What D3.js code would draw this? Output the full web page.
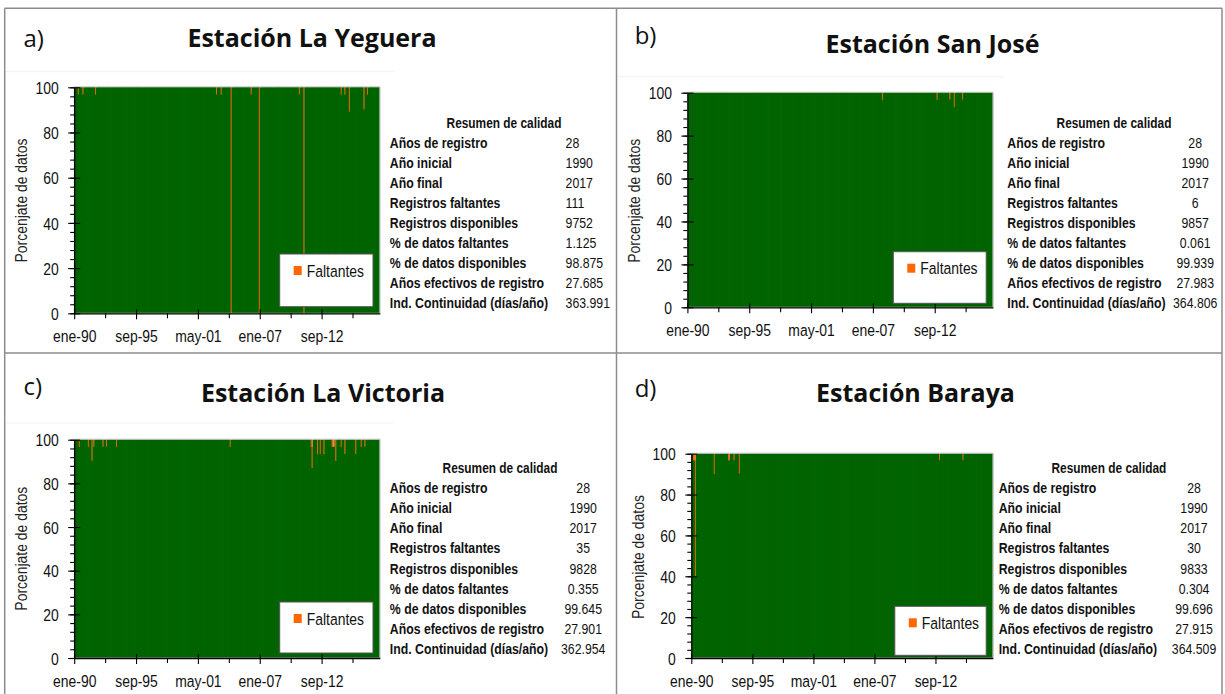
<!DOCTYPE html>
<html lang="es">
<head>
<meta charset="utf-8">
<title>Resumen de calidad de estaciones</title>
<script src="https://cdn.jsdelivr.net/npm/d3@7/dist/d3.min.js"></script>
<style>
  html, body { margin: 0; padding: 0; background: #fff; }
  svg { display: block; }
</style>
</head>
<body>
<svg id="fig" width="1225" height="694"></svg>
<script>
// ---- Datos ----
const years = d3.range(1990, 2018);
const monthAbbr = ["ene", "feb", "mar", "abr", "may", "jun", "jul", "ago", "sep", "oct", "nov", "dic"];
const months = years.flatMap(y => monthAbbr.map(m => `${m}-${String(y).slice(2)}`));

const stationTags = ["a)", "b)", "c)", "d)"];
const stationNames = ["Estación La Yeguera", "Estación San José", "Estación La Victoria", "Estación Baraya"];

// Meses con datos faltantes: [mes, % faltante]; el resto del mes está disponible
const missingYeguera = [
  ["may-90", 3.2], ["oct-90", 3.2], ["dic-91", 3.2], ["ene-03", 3.2], ["jun-03", 3.3],
  ["may-04", 100], ["mar-06", 3.2], ["dic-06", 100], ["ago-10", 3.2], ["ene-11", 100],
  ["jun-14", 3.3], ["oct-14", 3.2], ["mar-15", 10.8], ["jul-16", 9.7], ["nov-16", 3.3]
];
const missingSanJose = [
  ["nov-07", 3.3], ["nov-12", 3.3], ["ene-14", 3.2], ["jun-14", 6.7], ["mar-15", 3.2]
];
const missingVictoria = [
  ["jun-90", 3.3], ["abr-91", 3.3], ["ago-91", 9.7], ["oct-91", 3.2], ["ago-92", 3.2],
  ["dic-92", 3.2], ["nov-93", 3.3], ["abr-04", 3.3], ["sep-11", 3.3], ["oct-11", 12.9],
  ["abr-12", 6.7], ["jul-12", 6.5], ["nov-12", 6.7], ["ago-13", 3.2], ["sep-13", 3.3],
  ["oct-13", 3.2], ["dic-13", 9.7], ["jun-14", 3.3], ["oct-14", 6.5], ["oct-15", 6.5],
  ["abr-16", 3.3], ["ago-16", 3.2]
];
const missingBaraya = [
  ["mar-90", 3.2], ["abr-90", 3.3], ["may-90", 60], ["feb-92", 10], ["jun-93", 3.3],
  ["jul-93", 3.2], ["dic-93", 3.2], ["jun-94", 9.7], ["ene-13", 3.2], ["mar-15", 3.2]
];

const summaryTitle = "Resumen de calidad";
const summaryLabels = [
  "Años de registro", "Año inicial", "Año final", "Registros faltantes",
  "Registros disponibles", "% de datos faltantes", "% de datos disponibles",
  "Años efectivos de registro", "Ind. Continuidad (días/año)"
];
const summaryYeguera  = ["28", "1990", "2017", "111", "9752", "1.125", "98.875", "27.685", "363.991"];
const summarySanJose  = ["28", "1990", "2017", "6",   "9857", "0.061", "99.939", "27.983", "364.806"];
const summaryVictoria = ["28", "1990", "2017", "35",  "9828", "0.355", "99.645", "27.901", "362.954"];
const summaryBaraya   = ["28", "1990", "2017", "30",  "9833", "0.304", "99.696", "27.915", "364.509"];

const yTicks = [0, 20, 40, 60, 80, 100];
const yMinorStep = 4;
const xLabelEvery = 68;   // meses entre etiquetas
const xTickEvery = 34;    // meses entre marcas
const yTitle = "Porcenjate de datos";
const legendLabel = "Faltantes";

// ---- Estilo y disposición ----
const GREEN = "#006400";
const ORANGE = "#ff6600";
const SANS = '"Liberation Sans", Arial, sans-serif';
const NARROW_X = 0.82;    // estrechamiento horizontal del texto (estilo Arial Narrow)
const TITLEFONT = '"Open Sans", "Noto Sans", sans-serif';

// Estrecha horizontalmente un texto manteniendo su punto de anclaje
function narrow(sel, extra) {
  sel.each(function () {
    const t = d3.select(this);
    const x = +t.attr("x") || 0, y = +t.attr("y") || 0;
    t.attr("x", 0).attr("y", 0)
      .attr("font-family", SANS)
      .attr("transform", `translate(${x},${y})${extra || ""} scale(${NARROW_X},1)`);
  });
}

const layouts = [
  { ox: 0, oy: 0,
    plot: { l: 74.2, r: 379.8, t: 87.3, b: 313.3 },
    legend: { x: 279.7, y: 254, w: 93.3, h: 52.7 },
    table: { titleX: 504, titleY: 128, labelX: 389.8, valX: 565.6, anchor: "start", row0: 147.6, dy: 20.1 },
    yTitle: { x: 20.5, y: 200.5 }, tag: { x: 23.4, y: 46.7 }, title: { x: 312, y: 46.7 },
    frame: { y: 71.7, x2: 394 } },
  { ox: 612, oy: 0,
    plot: { l: 75.4, r: 380.9, t: 92.7, b: 307.3 },
    legend: { x: 281.3, y: 251.7, w: 92.9, h: 51.6 },
    table: { titleX: 502, titleY: 128, labelX: 395.3, valX: 583.2, anchor: "middle", row0: 147.6, dy: 20.1 },
    yTitle: { x: 21.5, y: 200.8 }, tag: { x: 22.7, y: 43.5 }, title: { x: 320.5, y: 52.7 },
    frame: { y: 76.7, x2: 392.6 } },
  { ox: 0, oy: 347,
    plot: { l: 74.2, r: 379.8, t: 92.7, b: 311 },
    legend: { x: 279.7, y: 255, w: 93.3, h: 51 },
    table: { titleX: 500, titleY: 126, labelX: 389.8, valX: 583.2, anchor: "middle", row0: 146, dy: 20.16 },
    yTitle: { x: 20.5, y: 201.7 }, tag: { x: 23.4, y: 48.3 }, title: { x: 323, y: 55 },
    frame: { y: 76, x2: 394 } },
  { ox: 612, oy: 347,
    plot: { l: 79.3, r: 380.9, t: 106.7, b: 311 },
    legend: { x: 282.8, y: 259.3, w: 91.4, h: 49 },
    table: { titleX: 496.9, titleY: 126, labelX: 386.7, valX: 582, anchor: "middle", row0: 146, dy: 20.16 },
    yTitle: { x: 25.4, y: 210 }, tag: { x: 22.7, y: 50 }, title: { x: 303.5, y: 55 },
    frame: null }
];

const missingSets = [missingYeguera, missingSanJose, missingVictoria, missingBaraya];
const summaries = [summaryYeguera, summarySanJose, summaryVictoria, summaryBaraya];

const svg = d3.select("#fig");

// Marco de la figura (cuadrícula de 2x2)
const frame = svg.append("g").attr("fill", "none").attr("stroke", "#8c8c8c").attr("stroke-width", 1.5);
frame.append("line").attr("x1", 4.5).attr("x2", 1222).attr("y1", 8.3).attr("y2", 8.3);
frame.append("line").attr("x1", 4.7).attr("x2", 4.7).attr("y1", 8.3).attr("y2", 694);
frame.append("line").attr("x1", 1222).attr("x2", 1222).attr("y1", 8.3).attr("y2", 694);
frame.append("line").attr("x1", 616.5).attr("x2", 616.5).attr("y1", 8.3).attr("y2", 694);
frame.append("line").attr("x1", 4.7).attr("x2", 1222).attr("y1", 353).attr("y2", 353);

function drawPanel(k) {
  const L = layouts[k];
  const g = svg.append("g").attr("transform", `translate(${L.ox},${L.oy})`);

  if (L.frame) {
    g.append("line").attr("x1", 6).attr("x2", L.frame.x2)
      .attr("y1", L.frame.y).attr("y2", L.frame.y)
      .attr("stroke", "#f2f2f2").attr("stroke-width", 1);
  }

  // Títulos
  g.append("text").attr("x", L.tag.x).attr("y", L.tag.y)
    .attr("font-family", TITLEFONT).attr("font-size", 24).attr("fill", "#111")
    .text(stationTags[k]);
  g.append("text").attr("x", L.title.x).attr("y", L.title.y)
    .attr("text-anchor", "middle")
    .attr("font-family", TITLEFONT).attr("font-weight", 700).attr("font-size", 25).attr("fill", "#111")
    .text(stationNames[k]);

  // Serie mensual completa: faltante y disponible (%)
  const missMap = new Map(missingSets[k]);
  const series = months.map(m => {
    const miss = missMap.get(m) || 0;
    return { month: m, available: 100 - miss, missing: miss };
  });

  const P = L.plot;
  const W = P.r - P.l, H = P.b - P.t;
  const plot = g.append("g").attr("transform", `translate(${P.l},${P.t})`);

  const x = d3.scaleBand().domain(months).range([0, W]).paddingInner(0).paddingOuter(0);
  const xi = d3.scaleLinear().domain([0, months.length]).range([0, W]);
  const y = d3.scaleLinear().domain([0, 100]).range([H, 0]);

  const stack = d3.stack().keys(["available", "missing"])(series);
  const colors = { available: GREEN, missing: ORANGE };

  // Disponibles (cada barra cubre el borde de la siguiente para evitar costuras)
  const last = months[months.length - 1];
  plot.append("g").selectAll("rect").data(stack[0]).join("rect")
    .attr("x", d => x(d.data.month))
    .attr("width", d => x.bandwidth() + (d.data.month === last ? 0 : 1.2))
    .attr("y", d => y(d[1]))
    .attr("height", d => y(d[0]) - y(d[1]))
    .attr("fill", colors.available);
  // Faltantes
  plot.append("g").selectAll("rect").data(stack[1].filter(d => d[1] - d[0] > 0)).join("rect")
    .attr("x", d => x(d.data.month))
    .attr("width", x.bandwidth())
    .attr("y", d => y(d[1]))
    .attr("height", d => y(d[0]) - y(d[1]))
    .attr("fill", colors.missing);

  // Borde del área de trazado
  plot.append("rect").attr("x", 0).attr("y", -0.5).attr("width", W).attr("height", H + 0.5)
    .attr("fill", "none").attr("stroke", "#c4c4c4").attr("stroke-width", 1);

  // Eje Y
  const yMinor = d3.range(0, 100 + 0.001, yMinorStep);
  plot.append("g").call(d3.axisLeft(y).tickValues(yMinor).tickSize(4).tickFormat(""))
    .call(a => a.select(".domain").remove());
  plot.append("g").call(d3.axisLeft(y).tickValues(yTicks).tickSize(-6).tickFormat(""))
    .call(a => a.select(".domain").remove());
  const yAx = plot.append("g").call(d3.axisLeft(y).tickValues(yTicks).tickSize(6).tickSizeOuter(0));
  yAx.selectAll("text").attr("x", -15.5).attr("dy", "0.36em")
    .attr("font-size", 17).attr("fill", "#111").call(narrow);
  yAx.select(".domain").attr("stroke", "#000").attr("stroke-width", 1.3);

  // Eje X
  const xTickIdx = d3.range(0, months.length, xTickEvery);
  const xLabelIdx = d3.range(0, months.length, xLabelEvery);
  const xMinor = plot.append("g").attr("transform", `translate(0,${H})`)
    .call(d3.axisBottom(xi).tickValues(xTickIdx.filter(i => i % xLabelEvery !== 0)).tickSize(5).tickFormat(""));
  xMinor.select(".domain").remove();
  const xIn = plot.append("g").attr("transform", `translate(0,${H})`)
    .call(d3.axisBottom(xi).tickValues(xLabelIdx).tickSize(-4).tickFormat(""));
  xIn.select(".domain").remove();
  const xAx = plot.append("g").attr("transform", `translate(0,${H})`)
    .call(d3.axisBottom(xi).tickValues(xLabelIdx).tickSize(6).tickSizeOuter(0).tickFormat(i => months[i]));
  xAx.select(".domain").attr("stroke", "#000").attr("stroke-width", 1.3);
  xAx.selectAll("text").attr("y", 28.5).attr("dy", null)
    .attr("font-size", 17).attr("fill", "#111").call(narrow);
  plot.selectAll(".tick line").attr("stroke", "#000").attr("stroke-width", 1.1);

  // Título del eje Y
  g.append("text")
    .attr("x", L.yTitle.x).attr("y", L.yTitle.y)
    .attr("text-anchor", "middle").attr("dy", "0.36em")
    .attr("font-size", 17).attr("fill", "#222")
    .text(yTitle).call(narrow, " rotate(-90)");

  // Leyenda
  const lg = g.append("g").attr("transform", `translate(${L.legend.x},${L.legend.y})`);
  lg.append("rect").attr("width", L.legend.w).attr("height", L.legend.h)
    .attr("fill", "#fff").attr("stroke", "#555").attr("stroke-width", 1);
  lg.append("rect").attr("x", 14).attr("y", 12).attr("width", 8).attr("height", 9).attr("fill", ORANGE);
  lg.append("text").attr("x", 27).attr("y", 22.7)
    .attr("font-size", 17).attr("fill", "#111")
    .text(legendLabel).call(narrow);

  // Tabla resumen
  const T = L.table;
  const tg = g.append("g").attr("fill", "#111");
  tg.append("text").attr("x", T.titleX).attr("y", T.titleY).attr("text-anchor", "middle")
    .attr("font-weight", 700).attr("font-size", 14.5).text(summaryTitle).call(narrow);
  tg.selectAll("text.lab").data(summaryLabels).join("text").attr("class", "lab")
    .attr("x", T.labelX).attr("y", (d, i) => T.row0 + i * T.dy)
    .attr("font-weight", 700).attr("font-size", 15).text(d => d).call(narrow);
  tg.selectAll("text.val").data(summaries[k]).join("text").attr("class", "val")
    .attr("x", T.valX).attr("y", (d, i) => T.row0 + i * T.dy)
    .attr("text-anchor", T.anchor).attr("font-size", 15).text(d => d).call(narrow);
}

layouts.forEach((_, k) => drawPanel(k));
</script>
</body>
</html>
